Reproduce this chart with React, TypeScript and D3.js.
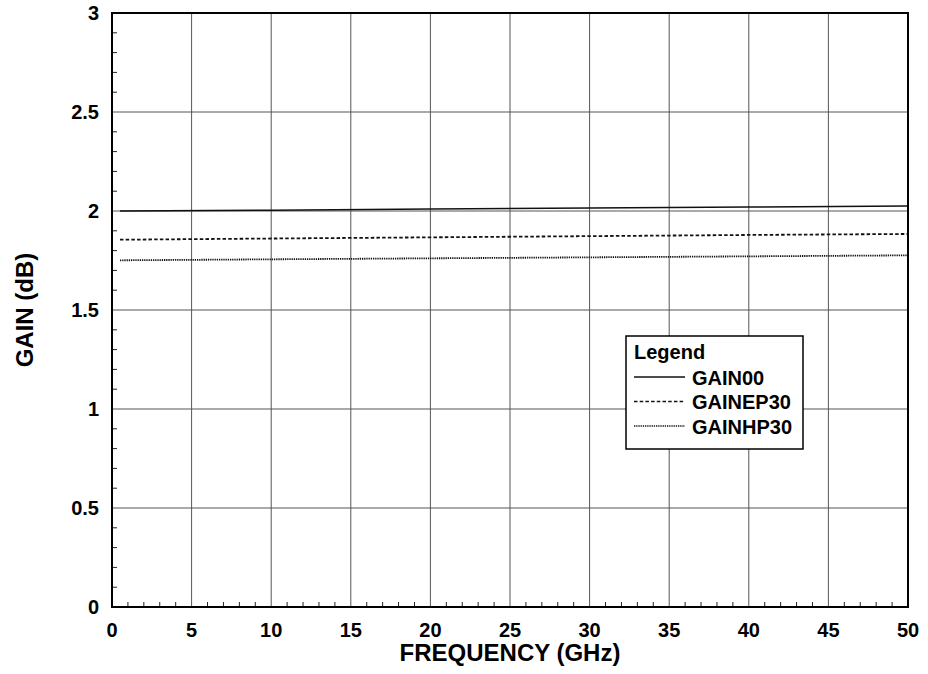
import React from "react";
import * as d3 from "d3";

// Frequency sample points (GHz)
const freqs = [0.5, 10, 20, 30, 40, 50];
// Gain series (dB)
const gain00 = [2.0, 2.004, 2.01, 2.015, 2.02, 2.025];
const gainEP30 = [1.855, 1.861, 1.867, 1.873, 1.879, 1.884];
const gainHP30 = [1.751, 1.756, 1.761, 1.766, 1.771, 1.776];

const seriesNames = ["GAIN00", "GAINEP30", "GAINHP30"];
const seriesDash = ["none", "3.5,2.2", "1.3,0.9"];

const xTicks = [0, 5, 10, 15, 20, 25, 30, 35, 40, 45, 50];
const yTicks = [0, 0.5, 1, 1.5, 2, 2.5, 3];
const yTickLabels = ["0", "0.5", "1", "1.5", "2", "2.5", "3"];

const W = 928;
const H = 674;
const M = { left: 112, right: 20, top: 13, bottom: 67 };
const FONT = "'Liberation Sans', Arial, Helvetica, sans-serif";

export default function App() {
  const x = d3.scaleLinear().domain([0, 50]).range([M.left, W - M.right]);
  const y = d3.scaleLinear().domain([0, 3]).range([H - M.bottom, M.top]);
  const [x0, x1] = x.range();
  const [y0, y1] = y.range();

  const xMinor = d3.range(1, 50).filter((v) => v % 5 !== 0);
  const yMinor = d3.range(1, 30).map((v) => v / 10).filter((v, i) => (i + 1) % 5 !== 0);

  const allSeries = [gain00, gainEP30, gainHP30];
  const line = (vals: number[]) =>
    d3.line<number>().x((_, i) => x(freqs[i])).y((v) => y(v))(vals) || "";

  const lx = 626, ly = 336, lw = 177, lh = 113;

  return (
    <svg width={W} height={H} style={{ position: "absolute", left: 0, top: 0, background: "#fff" }}>
      <rect x={0} y={0} width={W} height={H} fill="#fff" />
      {/* grid */}
      {xTicks.slice(1, -1).map((t) => (
        <line key={"gx" + t} x1={x(t)} x2={x(t)} y1={y0} y2={y1} stroke="#555" strokeWidth={1} />
      ))}
      {yTicks.slice(1, -1).map((t) => (
        <line key={"gy" + t} x1={x0} x2={x1} y1={y(t)} y2={y(t)} stroke="#555" strokeWidth={1} />
      ))}
      {/* minor ticks */}
      {xMinor.map((t) => (
        <line key={"mx" + t} x1={x(t)} x2={x(t)} y1={y0} y2={y0 - 5} stroke="#222" strokeWidth={1} />
      ))}
      {yMinor.map((t) => (
        <line key={"my" + t} x1={x0} x2={x0 + 5} y1={y(t)} y2={y(t)} stroke="#222" strokeWidth={1} />
      ))}
      {/* series */}
      {allSeries.map((s, i) => (
        <path
          key={seriesNames[i]}
          d={line(s)}
          fill="none"
          stroke="#111"
          strokeWidth={i === 0 ? 1.6 : 1.8}
          strokeDasharray={seriesDash[i]}
        />
      ))}
      {/* frame */}
      <rect x={x0} y={y1} width={x1 - x0} height={y0 - y1} fill="none" stroke="#000" strokeWidth={2} />
      {/* tick labels */}
      {xTicks.map((t) => (
        <text key={"xl" + t} x={x(t)} y={637} textAnchor="middle" fontFamily={FONT} fontWeight="bold" fontSize={20}>
          {t}
        </text>
      ))}
      {yTicks.map((t, i) => (
        <text key={"yl" + t} x={99} y={y(t) + 7} textAnchor="end" fontFamily={FONT} fontWeight="bold" fontSize={20}>
          {yTickLabels[i]}
        </text>
      ))}
      {/* axis titles */}
      <text x={510} y={661} textAnchor="middle" fontFamily={FONT} fontWeight="bold" fontSize={24}>
        FREQUENCY (GHz)
      </text>
      <text
        transform={`translate(33, ${(y0 + y1) / 2}) rotate(-90)`}
        textAnchor="middle"
        fontFamily={FONT}
        fontWeight="bold"
        fontSize={24}
      >
        GAIN (dB)
      </text>
      {/* legend */}
      <g>
        <rect x={lx} y={ly} width={lw} height={lh} fill="#fff" stroke="#000" strokeWidth={1.5} />
        <text x={lx + 8} y={ly + 23} fontFamily={FONT} fontWeight="bold" fontSize={20}>
          Legend
        </text>
        {seriesNames.map((n, i) => {
          const yy = ly + 41 + i * 24.5;
          return (
            <g key={"lg" + n}>
              <line x1={lx + 8} x2={lx + 59} y1={yy} y2={yy} stroke="#111" strokeWidth={i === 0 ? 1.6 : 1.4} strokeDasharray={seriesDash[i]} />
              <text x={lx + 66} y={yy + 7.5} fontFamily={FONT} fontWeight="bold" fontSize={20}>
                {n}
              </text>
            </g>
          );
        })}
      </g>
    </svg>
  );
}
